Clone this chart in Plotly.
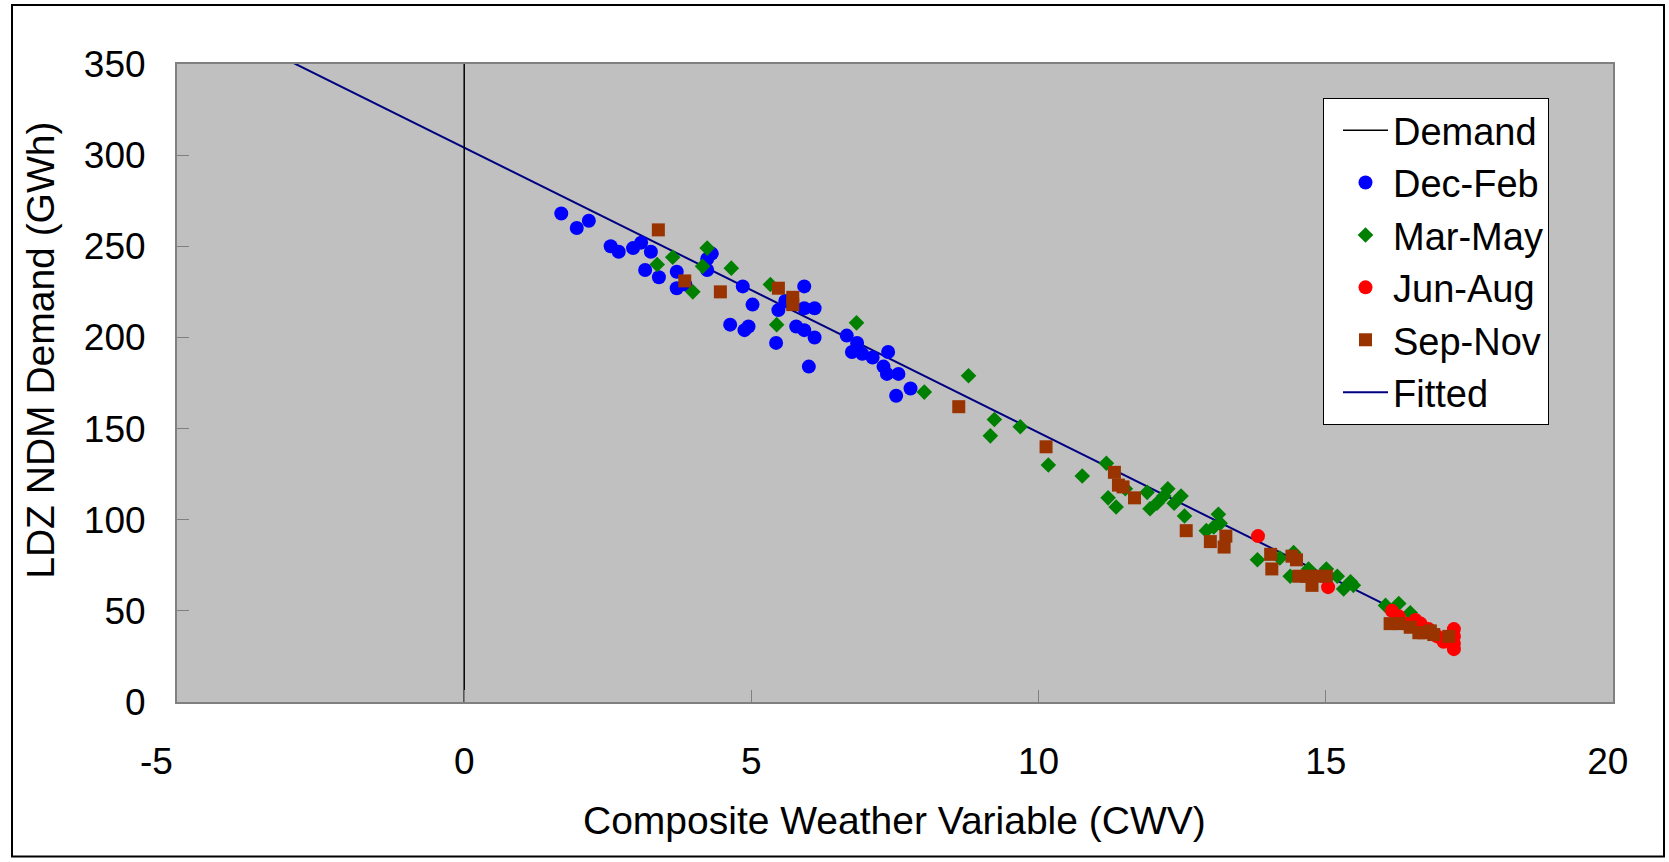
import plotly.graph_objects as go

# ---- data ----
dec_feb_x = [1.69, 1.96, 2.17, 2.55, 2.69, 2.94, 3.08, 3.15, 3.25, 3.39,
             3.70, 3.70, 3.85, 4.23, 4.23, 4.31, 4.63, 4.85, 4.88, 4.95,
             5.02, 5.43, 5.47, 5.59, 5.78, 5.92, 5.92, 5.92, 6.00, 6.10,
             6.10, 6.66, 6.75, 6.84, 6.93, 7.11, 7.30, 7.36, 7.38, 7.52,
             7.56, 7.77]
dec_feb_y = [268, 260, 264, 250, 247, 249, 252, 237, 247, 233,
             236, 227, 229, 237, 243, 246, 207, 228, 204, 206,
             218, 197, 215, 220, 206, 228, 216, 204, 184, 216,
             200, 201, 192, 197, 191, 189, 184, 180, 192, 168,
             180, 172]

mar_may_x = [3.36, 3.63, 3.98, 4.15, 4.23, 4.65, 5.33, 5.44, 6.83, 8.01,
             8.78, 9.23, 9.16, 9.68, 10.17, 10.76, 11.18, 11.21, 11.35, 11.51,
             11.89, 11.94, 12.06, 12.18, 12.25, 12.36, 12.48, 12.54, 12.92, 13.05,
             13.13, 13.16, 13.81, 14.20, 14.44, 14.38, 14.70, 15.01, 15.20, 15.31,
             15.43, 15.48, 16.04, 16.27, 16.47]
mar_may_y = [240, 244, 225, 239, 249, 238, 229, 207, 208, 170,
             179, 155, 146, 151, 130, 124, 131, 112, 107, 117,
             115, 106, 109, 113, 117, 109, 113, 102, 94, 96,
             103, 98, 78, 79, 82, 69, 73, 73, 69, 62,
             66, 64, 53, 54, 49]

jun_aug_x = [13.82, 15.04, 16.15, 16.27, 16.38, 16.56, 16.65, 16.79, 16.94, 17.05,
             17.23, 17.23, 17.23, 17.23]
jun_aug_y = [91, 63, 50, 47, 43, 45, 43, 40, 36, 33,
             40, 36, 32, 29]

sep_nov_x = [3.38, 3.84, 4.46, 5.47, 5.72, 5.72, 8.61, 10.13, 11.32, 11.39,
             11.47, 11.67, 12.57, 12.99, 13.26, 13.23, 14.04, 14.06, 14.41, 14.49,
             14.53, 14.67, 14.76, 14.86, 15.01, 16.12, 16.27, 16.47, 16.62, 16.70,
             16.82, 16.88, 17.14]
sep_nov_y = [259, 231, 225, 227, 222, 218, 162, 140, 126, 119,
             118, 112, 94, 88, 91, 85, 81, 73, 80, 78,
             69, 69, 64, 69, 69, 43, 43, 41, 38, 38,
             39, 37, 36]

demand_x = [0, 0]
demand_y = [0, 350]

fitted_x = [-3.0, 16.0]
fitted_y = [351, 54]

x_ticks = [-5, 0, 5, 10, 15, 20]
x_tick_labels = ["-5\u00a0\u00a0\u00a0\u00a0", "0", "5", "10", "15", "20\u00a0"]
y_ticks = [0, 50, 100, 150, 200, 250, 300, 350]
y_tick_labels = ["0", "50", "100", "150", "200", "250", "300", "350"]

FONT = "Liberation Sans, Arial, sans-serif"
TICK_FS = 37
TITLE_FS = 39
LEG_FS = 38

fig = go.Figure()

fig.add_trace(go.Scatter(x=fitted_x, y=fitted_y, mode="lines", name="Fitted",
                         line=dict(color="#000080", width=2), legendrank=6))
fig.add_trace(go.Scatter(x=demand_x, y=demand_y, mode="lines", name="Demand",
                         line=dict(color="#000000", width=1.5), legendrank=1))
fig.add_trace(go.Scatter(x=dec_feb_x, y=dec_feb_y, mode="markers", name="Dec-Feb",
                         marker=dict(symbol="circle", size=14, color="#0000FF"), legendrank=2))
fig.add_trace(go.Scatter(x=mar_may_x, y=mar_may_y, mode="markers", name="Mar-May",
                         marker=dict(symbol="diamond", size=12, color="#008000"), legendrank=3))
fig.add_trace(go.Scatter(x=jun_aug_x, y=jun_aug_y, mode="markers", name="Jun-Aug",
                         marker=dict(symbol="circle", size=14, color="#FF0000"), legendrank=4))
fig.add_trace(go.Scatter(x=sep_nov_x, y=sep_nov_y, mode="markers", name="Sep-Nov",
                         marker=dict(symbol="square", size=13, color="#993300"), legendrank=5))

W, H = 1669, 862
L, T = 177, 64
pw = 1613 - L
ph = 702.5 - T
R = W - L - pw
B = H - T - ph

def px_x(p):
    return (p - L) / pw

def px_y(p):
    return (T + ph - p) / ph

fig.update_layout(
    width=W, height=H,
    margin=dict(l=L, r=R, t=T, b=B, autoexpand=False),
    paper_bgcolor="white",
    plot_bgcolor="#C0C0C0",
    font=dict(family=FONT, size=TICK_FS, color="black"),
    showlegend=True,
    legend=dict(x=px_x(1323), y=px_y(98), xanchor="left", yanchor="top",
                bgcolor="white", bordercolor="black", borderwidth=1,
                font=dict(family=FONT, size=LEG_FS, color="black"),
                indentation=14, itemwidth=45,
                tracegroupgap=0),
    xaxis=dict(range=[-5, 20], tickvals=x_ticks, ticktext=x_tick_labels,
               showgrid=False, zeroline=False, ticks="inside", ticklen=12,
               tickcolor="#808080", showline=True, linecolor="#808080", linewidth=2,
               mirror=True, ticklabelstandoff=26, fixedrange=True),
    yaxis=dict(range=[0, 350], tickvals=y_ticks, ticktext=y_tick_labels,
               showgrid=False, zeroline=False, ticks="inside", ticklen=12,
               tickcolor="#808080", showline=True, linecolor="#808080", linewidth=2,
               mirror=True, ticklabelstandoff=22, fixedrange=True),
    annotations=[
        dict(text="Composite Weather Variable (CWV)", xref="paper", yref="paper",
             x=px_x(894), y=px_y(821), xanchor="center", yanchor="middle",
             showarrow=False, font=dict(family=FONT, size=TITLE_FS)),
        dict(text="LDZ NDM Demand (GWh)", xref="paper", yref="paper",
             x=px_x(41), y=px_y(351), xanchor="center", yanchor="middle",
             textangle=-90, showarrow=False, font=dict(family=FONT, size=TITLE_FS)),
    ],
    shapes=[
        dict(type="rect", xref="paper", yref="paper",
             x0=px_x(12), x1=px_x(1664), y0=px_y(857), y1=px_y(5),
             line=dict(color="black", width=2), fillcolor="rgba(0,0,0,0)", layer="below"),
    ],
)

fig.write_html("out.html", config={"displayModeBar": False},
               post_script="document.body.style.margin='0px';")
